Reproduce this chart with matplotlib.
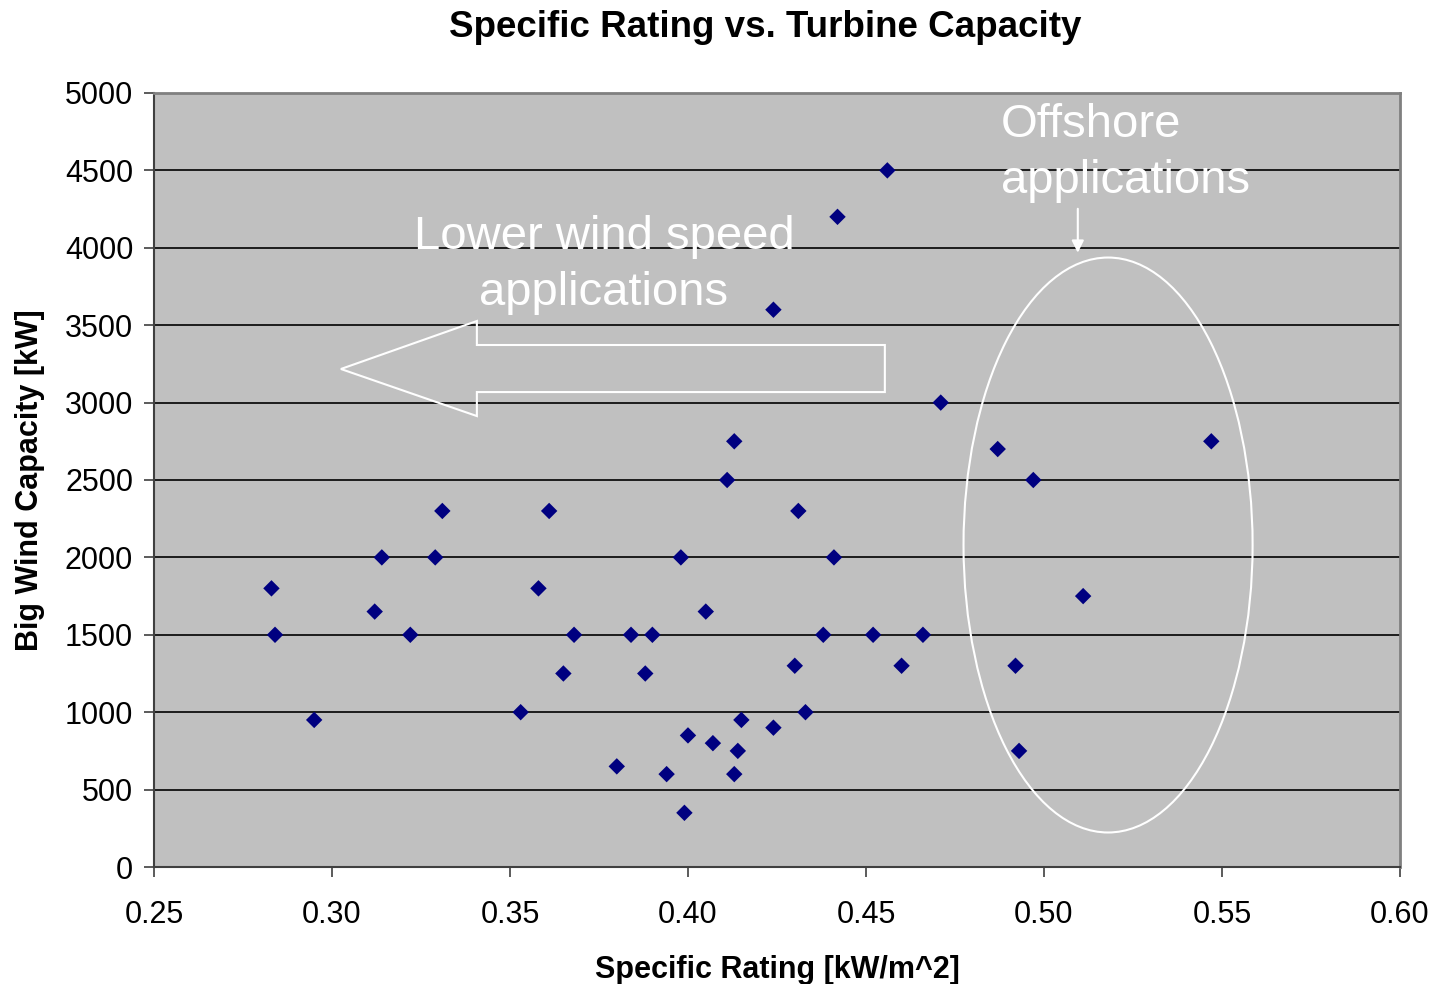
import matplotlib
matplotlib.use("Agg")
import matplotlib.pyplot as plt
from matplotlib.patches import Ellipse, Polygon

plt.rcParams['font.family'] = ['Liberation Sans', 'DejaVu Sans']

# specific rating [kW/m^2] and capacity [kW]
specific_rating = [0.283, 0.284, 0.295, 0.312, 0.314, 0.322, 0.329, 0.331,
                   0.353, 0.358, 0.361, 0.365, 0.368, 0.380, 0.384, 0.388,
                   0.390, 0.394, 0.398, 0.399, 0.400, 0.405, 0.407, 0.411,
                   0.413, 0.413, 0.414, 0.415, 0.424, 0.424, 0.430, 0.431,
                   0.433, 0.438, 0.441, 0.442, 0.452, 0.456, 0.460, 0.466,
                   0.471, 0.487, 0.492, 0.493, 0.497, 0.511, 0.547]
capacity = [1800, 1500, 950, 1650, 2000, 1500, 2000, 2300,
            1000, 1800, 2300, 1250, 1500, 650, 1500, 1250,
            1500, 600, 2000, 350, 850, 1650, 800, 2500,
            600, 2750, 750, 950, 900, 3600, 1300, 2300,
            1000, 1500, 2000, 4200, 1500, 4500, 1300, 1500,
            3000, 2700, 1300, 750, 2500, 1750, 2750]

x_ticks = [0.25, 0.30, 0.35, 0.40, 0.45, 0.50, 0.55, 0.60]
y_ticks = [0, 500, 1000, 1500, 2000, 2500, 3000, 3500, 4000, 4500, 5000]

fig = plt.figure(figsize=(14.35, 9.84), dpi=100)
ax = fig.add_axes([0.1073, 0.1189, 0.8683, 0.7866])
ax.set_facecolor('#C0C0C0')

ax.scatter(specific_rating, capacity, marker='D', s=70, color='#000080',
           edgecolors='none', zorder=3)

ax.set_xlim(0.25, 0.60)
ax.set_ylim(0, 5000)
ax.set_xticks(x_ticks)
ax.set_xticklabels([f'{t:.2f}' for t in x_ticks])
ax.set_yticks(y_ticks)
ax.yaxis.grid(True, color='black', linewidth=1.2)
ax.set_axisbelow(True)

for s in ['top', 'right']:
    ax.spines[s].set_color('#808080')
    ax.spines[s].set_linewidth(2)
for s in ['left', 'bottom']:
    ax.spines[s].set_color('#404040')
    ax.spines[s].set_linewidth(1.5)

ax.tick_params(axis='both', labelsize=22, length=7, width=1.2, color='#404040')
ax.tick_params(axis='y', pad=8)
ax.tick_params(axis='x', pad=17)

fig.text(0.533, 0.9716, 'Specific Rating vs. Turbine Capacity', fontsize=26.5,
         fontweight='bold', ha='center', va='center')
ax.set_xlabel('Specific Rating [kW/m^2]', fontsize=22, fontweight='bold',
              labelpad=18)
ax.set_ylabel('Big Wind Capacity [kW]', fontsize=22, fontweight='bold',
              labelpad=14)

# hollow block arrow pointing left
arrow = Polygon([(0.3025, 3217), (0.3407, 3527), (0.3407, 3372),
                 (0.4553, 3372), (0.4553, 3068), (0.3407, 3068),
                 (0.3407, 2913)], closed=True, facecolor='none',
                edgecolor='white', linewidth=1.5, zorder=4)
ax.add_patch(arrow)
ax.text(0.3764, 3890, 'Lower wind speed\napplications', color='white',
        fontsize=34, ha='center', va='center', linespacing=1.35, zorder=5)

# ellipse around offshore turbines
ell = Ellipse((0.518, 2080), 0.0812, 3714, facecolor='none',
              edgecolor='white', linewidth=1.5, zorder=4)
ax.add_patch(ell)
ax.text(0.4879, 4612, 'Offshore\napplications', color='white', fontsize=34,
        ha='left', va='center', linespacing=1.35, zorder=5)
ax.annotate('', xy=(0.5095, 3950), xytext=(0.5095, 4270),
            arrowprops=dict(arrowstyle='-|>', color='white', lw=1.5,
                            mutation_scale=18), zorder=5)

fig.savefig('out.png', dpi=100)
